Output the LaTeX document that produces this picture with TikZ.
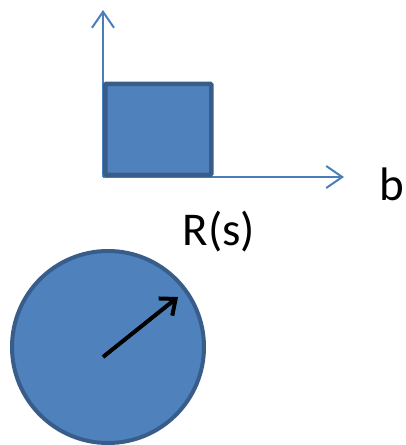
\documentclass[tikz,border=0pt]{standalone}
\usepackage{fontspec}
\setmainfont{Carlito}
\usetikzlibrary{arrows.meta}
\definecolor{fillblue}{HTML}{4F81BD}
\definecolor{edgeblue}{HTML}{385D8A}
\definecolor{axisblue}{HTML}{4A7EBB}
\begin{document}
\begin{tikzpicture}[x=1pt,y=-1pt,
  shapebox/.style={draw=edgeblue,fill=fillblue,line width=4.5pt,rounded corners=1pt,inner sep=0pt},
  axis/.style={draw=axisblue,line width=2pt,-{Straight Barb[length=16pt,width=22pt,line width=2pt]}},
  label/.style={font=\fontsize{47}{52}\selectfont,inner sep=0pt}]
\useasboundingbox (0,0) rectangle (406,445);
\coordinate (o) at (103,177);
\coordinate (ytip) at (103,10);
\coordinate (xtip) at (344,177);
\draw[axis] (o) -- (ytip);
\draw[axis] (o) -- (xtip);
\node[shapebox,rectangle,minimum width=106pt,minimum height=91pt,anchor=south west] (sq) at (103,177) {};
\node[label,anchor=base] (b) at (392,200) {b};
\node[label,anchor=base] (rs) at (219,245) {R(s)};
\node[shapebox,circle,line width=4pt,minimum size=192pt] (c) at (108,347) {};
\coordinate (ctr) at (103,357);
\coordinate (rtip) at (178,297);
\draw[line width=4pt,-{Straight Barb[length=13pt,width=22pt,line width=4pt]}] (ctr) -- (rtip);
\end{tikzpicture}
\end{document}
